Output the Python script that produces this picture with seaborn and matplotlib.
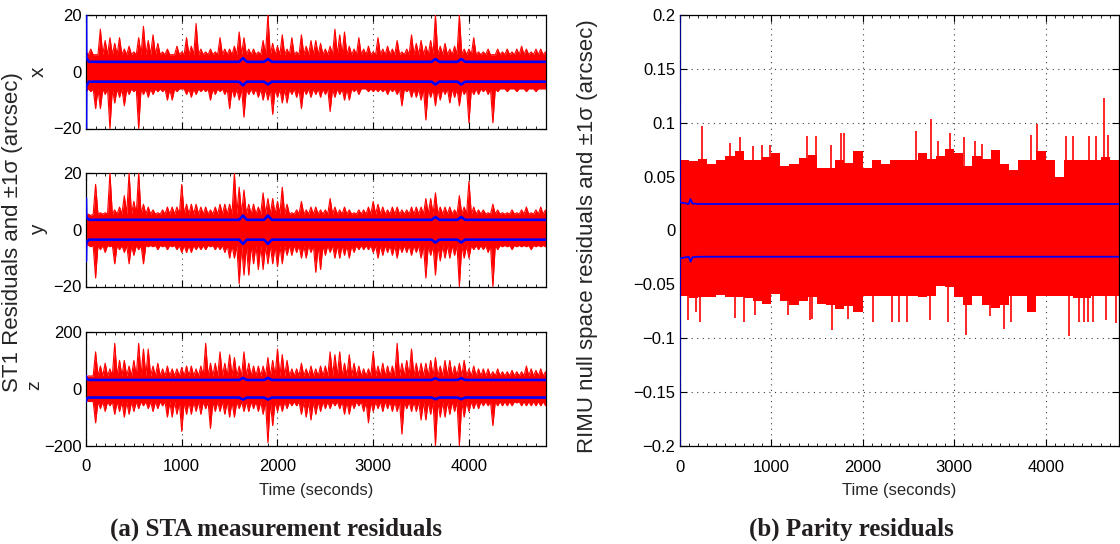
import numpy as np
import matplotlib
matplotlib.use("Agg")
import matplotlib.pyplot as plt
import seaborn as sns
from matplotlib.ticker import MultipleLocator, FuncFormatter

sns.set_theme(style="white")
plt.rcParams['font.family'] = ['Liberation Sans', 'DejaVu Sans']
plt.rcParams['axes.unicode_minus'] = True

# ---------------------------------------------------------------------------
# Data
# ---------------------------------------------------------------------------
# sampling grid of the residual envelopes (seconds)
time_s = np.arange(0, 4801, 50)

# ST1 residual peaks (arcsec) per 50 s window: upper / lower extremes
x_hi = [7, 8, 6, 15, 11, 12, 10, 12, 8, 9,
        7, 12, 16, 11, 13, 10, 7, 8, 6, 9,
        7, 12, 9, 17, 8, 7, 8, 7, 12, 8,
        8, 9, 14, 12, 8, 8, 7, 11, 20, 10,
        9, 13, 8, 12, 7, 13, 9, 11, 11, 10,
        8, 9, 15, 13, 14, 9, 8, 12, 8, 9,
        7, 12, 8, 9, 8, 11, 7, 8, 13, 10,
        11, 9, 11, 20, 9, 10, 8, 9, 20, 8,
        8, 12, 7, 7, 8, 6, 8, 7, 8, 7,
        8, 9, 8, 7, 8, 8, 7]
x_lo = [-7, -7, -13, -13, -8, -20, -11, -9, -12, -8,
        -7, -20, -8, -9, -8, -7, -7, -10, -10, -7,
        -6, -8, -9, -8, -7, -7, -10, -8, -7, -8,
        -13, -9, -10, -16, -8, -8, -9, -10, -10, -15,
        -9, -11, -11, -8, -9, -13, -8, -9, -8, -9,
        -8, -14, -9, -8, -10, -10, -7, -8, -6, -7,
        -7, -7, -7, -8, -7, -8, -12, -7, -9, -9,
        -10, -17, -9, -12, -10, -8, -11, -9, -12, -8,
        -18, -8, -8, -7, -8, -18, -7, -6, -7, -6,
        -7, -6, -7, -6, -7, -6, -6]

y_hi = [5, 5, 16, 6, 6, 20, 7, 8, 12, 20,
        10, 20, 9, 8, 7, 6, 7, 8, 8, 8,
        16, 9, 9, 9, 8, 8, 7, 8, 9, 9,
        9, 20, 15, 14, 9, 9, 8, 13, 11, 11,
        10, 15, 9, 6, 7, 10, 7, 8, 8, 7,
        7, 11, 8, 7, 8, 7, 6, 7, 7, 8,
        10, 9, 8, 7, 8, 8, 7, 7, 8, 8,
        8, 11, 11, 13, 8, 8, 8, 7, 12, 8,
        17, 8, 7, 7, 6, 9, 7, 6, 6, 7,
        6, 7, 8, 6, 7, 8, 7]
y_lo = [-5, -6, -17, -7, -8, -6, -12, -7, -8, -12,
        -9, -7, -12, -6, -6, -7, -6, -7, -6, -7,
        -8, -8, -8, -7, -7, -7, -6, -7, -7, -8,
        -10, -10, -19, -16, -16, -12, -14, -14, -12, -12,
        -13, -12, -9, -9, -8, -10, -10, -8, -15, -14,
        -9, -8, -10, -10, -9, -10, -8, -7, -7, -7,
        -8, -10, -9, -8, -9, -10, -8, -8, -9, -8,
        -10, -17, -9, -16, -11, -10, -10, -9, -20, -10,
        -10, -7, -7, -7, -8, -20, -7, -6, -6, -7,
        -6, -6, -6, -7, -6, -6, -6]

z_hi = [40, 45, 130, 80, 90, 70, 160, 100, 100, 80,
        100, 160, 140, 140, 80, 90, 70, 80, 70, 70,
        75, 80, 80, 70, 80, 160, 90, 90, 130, 90,
        120, 110, 80, 130, 90, 80, 80, 80, 110, 100,
        140, 120, 100, 70, 70, 90, 70, 80, 70, 80,
        80, 130, 120, 130, 90, 120, 90, 80, 70, 70,
        130, 80, 90, 80, 80, 160, 90, 100, 140, 90,
        90, 90, 100, 110, 80, 100, 100, 80, 90, 100,
        70, 80, 70, 70, 70, 60, 70, 60, 60, 65,
        60, 60, 80, 70, 65, 70, 60]
z_lo = [-40, -45, -120, -70, -80, -60, -90, -80, -100, -90,
        -80, -70, -60, -70, -80, -70, -60, -100, -100, -90,
        -150, -90, -90, -80, -90, -70, -140, -80, -80, -90,
        -100, -100, -70, -80, -80, -70, -80, -90, -190, -130,
        -80, -80, -70, -60, -60, -90, -100, -110, -90, -80,
        -70, -70, -60, -70, -90, -90, -70, -60, -80, -120,
        -80, -70, -80, -70, -80, -80, -160, -70, -80, -80,
        -110, -110, -90, -200, -100, -100, -90, -80, -200, -100,
        -80, -70, -70, -60, -60, -130, -60, -60, -60, -60,
        -50, -60, -60, -60, -60, -60, -60]

# dense noise floor of each ST1 component (arcsec)
x_core = 6.0
y_core = 5.5
z_core = 45.0

# filter 1-sigma bounds (arcsec)
sigma_t = [0, 3, 30, 1600, 1640, 1680, 1860, 1900, 1940,
           3610, 3650, 3690, 3880, 3920, 3960, 4800]
x_sigma = [25, 5, 3.5, 3.5, 4.8, 3.5, 3.5, 4.5, 3.5,
           3.5, 4.5, 3.5, 3.5, 4.5, 3.5, 3.5]
y_sigma = [11, 4.5, 3.5, 3.5, 5.0, 3.5, 3.5, 5.0, 3.5,
           3.5, 4.5, 3.5, 3.5, 4.5, 3.5, 3.5]
z_sigma = [45, 35, 31, 31, 38, 31, 31, 38, 31,
           31, 37, 31, 31, 37, 31, 31]

# RIMU parity residual band, 100 s blocks from 0 to 4800 s
parity_edges = np.arange(0, 4801, 100)
parity_hi = [0.065, 0.064, 0.066, 0.062, 0.065, 0.069, 0.074, 0.065, 0.065, 0.068,
             0.072, 0.060, 0.062, 0.067, 0.070, 0.058, 0.058, 0.065, 0.063, 0.074,
             0.058, 0.065, 0.062, 0.065, 0.065, 0.065, 0.072, 0.066, 0.069, 0.076,
             0.072, 0.060, 0.069, 0.066, 0.075, 0.062, 0.056, 0.065, 0.065, 0.074,
             0.065, 0.050, 0.065, 0.065, 0.065, 0.065, 0.068, 0.065]
parity_lo = [-0.061, -0.063, -0.062, -0.062, -0.060, -0.062, -0.062, -0.063, -0.066, -0.068,
             -0.059, -0.066, -0.069, -0.066, -0.062, -0.068, -0.069, -0.073, -0.070, -0.076,
             -0.061, -0.061, -0.061, -0.061, -0.061, -0.061, -0.062, -0.061, -0.052, -0.053,
             -0.062, -0.069, -0.061, -0.069, -0.072, -0.069, -0.061, -0.061, -0.076, -0.061,
             -0.061, -0.061, -0.061, -0.063, -0.063, -0.061, -0.061, -0.061]

# isolated parity outliers (time s, value)
parity_up_t = [240, 550, 660, 805, 895, 990, 1390, 1490, 1650, 1760, 1800,
               2578, 2749, 2820, 2960, 3113, 3233, 3300, 3843, 3905,
               4222, 4300, 4476, 4550, 4640, 4685]
parity_up_v = [0.097, 0.081, 0.087, 0.078, 0.079, 0.079, 0.088, 0.088, 0.079, 0.090, 0.090,
               0.092, 0.103, 0.083, 0.090, 0.087, 0.083, 0.080, 0.0885, 0.099,
               0.088, 0.088, 0.088, 0.088, 0.1226, 0.089]
parity_dn_t = [95, 175, 220, 610, 700, 820, 1180, 1420, 1450, 1665, 1840,
               2115, 2325, 2400, 2490, 2740, 2930, 3125, 3390, 3540, 3620,
               4250, 4360, 4420, 4460, 4520, 4660, 4770]
parity_dn_v = [-0.083, -0.076, -0.085, -0.081, -0.085, -0.079, -0.079, -0.083, -0.082, -0.093, -0.082,
               -0.085, -0.085, -0.085, -0.085, -0.083, -0.085, -0.097, -0.080, -0.092, -0.085,
               -0.098, -0.085, -0.085, -0.085, -0.085, -0.083, -0.086]

# parity 1-sigma bound
parity_sigma_t = [0, 3, 100, 120, 140, 200, 4800]
parity_sigma = [0.25, 0.026, 0.0245, 0.029, 0.025, 0.0245, 0.0245]

# ---------------------------------------------------------------------------
# Drawing helpers
# ---------------------------------------------------------------------------
RED = "#ff0000"
BLUE = "#0000ff"
T_MAX = 4805


def interleave(a, b):
    a = np.asarray(a, float)
    b = np.broadcast_to(np.asarray(b, float), a.shape)
    out = np.empty(2 * len(a))
    out[0::2] = a
    out[1::2] = b
    return out


def style_axes(ax, show_xticklabels):
    ax.set_xlim(0, T_MAX)
    ax.xaxis.set_major_locator(MultipleLocator(1000))
    ax.xaxis.set_minor_locator(MultipleLocator(100))
    ax.tick_params(axis="both", which="both", direction="in",
                   top=True, right=True, bottom=True, left=True,
                   colors="black", labelsize=12)
    ax.tick_params(axis="both", which="major", length=5, width=0.8)
    ax.tick_params(axis="both", which="minor", length=2.5, width=0.6)
    ax.tick_params(axis="x", which="major", pad=10)
    ax.tick_params(axis="y", which="major", pad=3)
    ax.grid(True, which="major", linestyle=(0, (1, 4)), color="0.25", linewidth=0.8)
    ax.set_axisbelow(True)
    for s in ax.spines.values():
        s.set_color("black")
        s.set_linewidth(0.9)
    if not show_xticklabels:
        ax.set_xticklabels([])
    ax.set_xlabel("")
    ax.set_ylabel("")


def draw_component(ax, hi, lo, core, sigma, lim, ticks):
    # each 50 s window rises from the noise floor to its extreme and falls back
    tt = interleave(time_s, time_s + 25)
    upper = interleave(hi, core)
    lower = interleave(lo, -core)
    ax.fill_between(tt, lower, upper, color=RED, linewidth=0, zorder=2)
    sns.lineplot(x=tt, y=upper, ax=ax, color=RED, linewidth=0.8, sort=False,
                 estimator=None, zorder=3)
    sns.lineplot(x=tt, y=lower, ax=ax, color=RED, linewidth=0.8, sort=False,
                 estimator=None, zorder=3)
    sns.lineplot(x=sigma_t, y=sigma, ax=ax, color=BLUE, linewidth=1.9,
                 estimator=None, zorder=4)
    sns.lineplot(x=sigma_t, y=-np.asarray(sigma), ax=ax, color=BLUE, linewidth=1.9,
                 estimator=None, zorder=4)
    ax.set_ylim(-lim, lim)
    ax.set_yticks(ticks)
    ax.yaxis.set_major_formatter(FuncFormatter(lambda v, p: f"{v:g}".replace("-", "\u2212")))


# ---------------------------------------------------------------------------
# Figure
# ---------------------------------------------------------------------------
W, H = 1120, 544
fig = plt.figure(figsize=(W / 100, H / 100), dpi=100)
fig.patch.set_facecolor("white")


def px_axes(left, top, right, bottom):
    return fig.add_axes([left / W, 1 - bottom / H, (right - left) / W, (bottom - top) / H])


ax_x = px_axes(86, 15, 546, 128.5)
ax_y = px_axes(86, 173, 546, 286.5)
ax_z = px_axes(86, 332, 546, 445.5)
ax_p = px_axes(679.6, 15, 1119.3, 445.7)

draw_component(ax_x, x_hi, x_lo, x_core, x_sigma, 20, [-20, 0, 20])
draw_component(ax_y, y_hi, y_lo, y_core, y_sigma, 20, [-20, 0, 20])
draw_component(ax_z, z_hi, z_lo, z_core, z_sigma, 200, [-200, 0, 200])
for a, show in ((ax_x, False), (ax_y, False), (ax_z, True)):
    style_axes(a, show)
ax_z.set_xlabel("Time (seconds)", fontsize=12, labelpad=6)

# parity residuals
ax_p.fill_between(parity_edges, list(parity_lo) + [parity_lo[-1]],
                  list(parity_hi) + [parity_hi[-1]], step="post",
                  color=RED, linewidth=0, zorder=2)
ax_p.vlines(parity_up_t, 0, parity_up_v, color=RED, linewidth=1.2, zorder=3)
ax_p.vlines(parity_dn_t, parity_dn_v, 0, color=RED, linewidth=1.2, zorder=3)
sns.lineplot(x=parity_sigma_t, y=parity_sigma, ax=ax_p, color=BLUE, linewidth=1.3,
             estimator=None, zorder=4)
sns.lineplot(x=parity_sigma_t, y=-np.asarray(parity_sigma), ax=ax_p, color=BLUE,
             linewidth=1.3, estimator=None, zorder=4)
ax_p.set_ylim(-0.2, 0.2)
ax_p.yaxis.set_major_locator(MultipleLocator(0.05))
ax_p.yaxis.set_major_formatter(FuncFormatter(
    lambda v, p: f"{round(v, 3):g}".replace("-", "\u2212")))
style_axes(ax_p, True)
ax_p.set_xlabel("Time (seconds)", fontsize=12, labelpad=6)

# axis titles
fig.text(13 / W, 1 - 232 / H, "ST1 Residuals and \u00b11\u03c3 (arcsec)",
         rotation=90, ha="center", va="center", fontsize=16)
fig.text(38 / W, 1 - 72 / H, "x", rotation=90, ha="center", va="center", fontsize=15)
fig.text(39 / W, 1 - 230 / H, "y", rotation=90, ha="center", va="center", fontsize=15)
fig.text(35 / W, 1 - 385 / H, "z", rotation=90, ha="center", va="center", fontsize=14)
fig.text(588 / W, 1 - 236 / H, "RIMU null space residuals and \u00b11\u03c3 (arcsec)",
         rotation=90, ha="center", va="center", fontsize=16)

# sub-figure captions
cap = dict(family="Liberation Serif", fontweight="bold", fontsize=18,
           color="#231f20", ha="center", va="center")
fig.text(276 / W, 1 - 529 / H, "(a) STA measurement residuals", **cap)
fig.text(851 / W, 1 - 529 / H, "(b) Parity residuals", **cap)

fig.savefig("out.png", dpi=100, facecolor="white")
